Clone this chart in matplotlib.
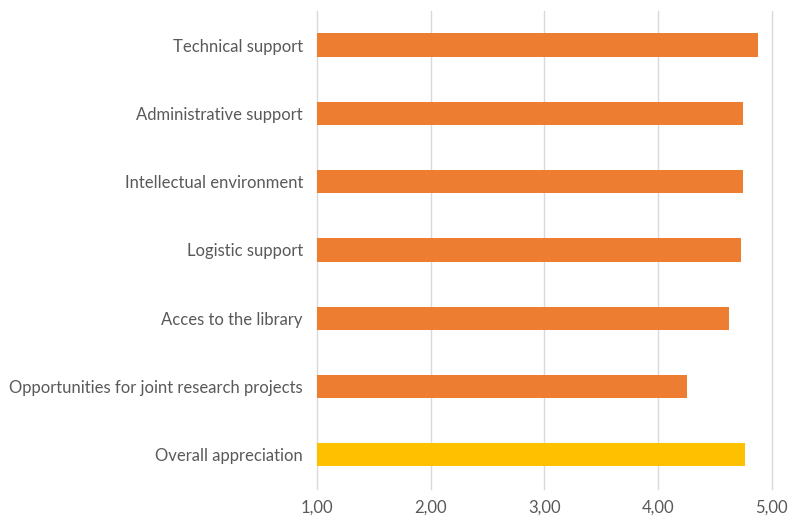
import matplotlib.pyplot as plt
from matplotlib.ticker import FuncFormatter

categories = ['Technical support', 'Administrative support', 'Intellectual environment',
              'Logistic support', 'Acces to the library',
              'Opportunities for joint research projects', 'Overall appreciation']
scores = [4.88, 4.745, 4.745, 4.73, 4.62, 4.25, 4.76]
colors = ['#ED7D31'] * 6 + ['#FFC000']

plt.rcParams['font.family'] = ['Lato', 'DejaVu Sans']

fig = plt.figure(figsize=(7.9, 5.21), dpi=100)
ax = fig.add_axes([0.401, 0.0614, 0.576, 0.9176])

ypos = list(range(len(categories)))
ax.barh(ypos, [s - 1 for s in scores], left=1, height=0.34, color=colors, zorder=3)

ax.set_xlim(1, 5)
ax.set_ylim(len(categories) - 0.5, -0.5)
ax.set_xticks([1, 2, 3, 4, 5])
ax.xaxis.set_major_formatter(FuncFormatter(lambda v, p: f'{v:.2f}'.replace('.', ',')))
ax.set_yticks(ypos)
ax.set_yticklabels(categories)

ax.grid(axis='x', color='#D9D9D9', linewidth=1, zorder=0)
for gl in ax.get_xgridlines():
    gl.set_clip_on(False)
for s in ax.spines.values():
    s.set_visible(False)
ax.tick_params(axis='both', length=0, colors='#595959', labelsize=12)
ax.tick_params(axis='y', pad=10)
ax.tick_params(axis='x', pad=8)

fig.savefig('out.png', dpi=100)
